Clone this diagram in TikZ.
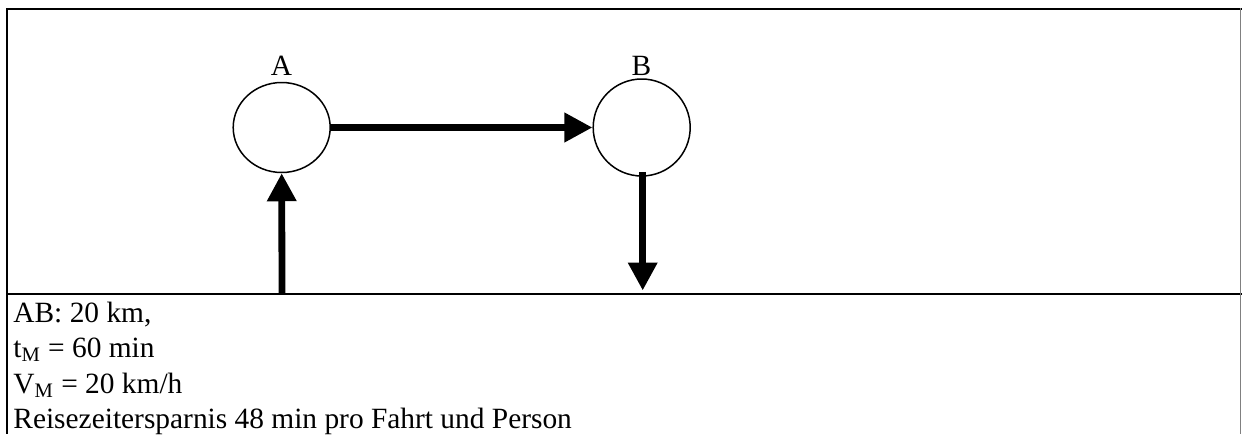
\documentclass[tikz,border=0pt]{standalone}
\usepackage{fontspec}
\setmainfont{Liberation Serif}
\usetikzlibrary{shapes.geometric,arrows.meta}
\tikzset{
  station/.style={ellipse,draw=black,line width=0.75pt,inner sep=0pt,fill=white},
  flow/.style={line width=3.4pt,-{Triangle[length=14pt,width=14pt]}},
  frameline/.style={line width=1pt,black},
  txt/.style={anchor=base west,inner sep=0pt,font=\fontsize{14.7pt}{17pt}\selectfont},
  lbl/.style={anchor=base,inner sep=0pt,font=\fontsize{14.7pt}{17pt}\selectfont}
}
\begin{document}
\begin{tikzpicture}[x=0.5pt,y=-0.5pt]
\useasboundingbox (0,0) rectangle (1242,434);
% table frame
\draw[frameline] (6,8.5) -- (1242,8.5);
\draw[frameline] (7,8) -- (7,434);
\draw[frameline] (7,293.5) -- (1242,293.5);
\draw[line width=0.6pt,gray] (1240.7,8) -- (1240.7,434);
% stations
\node[station,minimum width=48.5pt,minimum height=45pt] (A) at (281.7,127.5) {};
\node[station,minimum width=48.5pt,minimum height=48.5pt] (B) at (641.7,127.5) {};
\node[lbl] (la) at (281.5,75) {A};
\node[lbl] (lb) at (641.5,75) {B};
% connectors
\coordinate (inA) at (282,293);
\coordinate (outB) at (642.7,290.5);
\draw[flow] (A.east) -- (B.west);
\draw[flow] (inA) -- (A.south);
\draw[flow] ([yshift=2.5pt]B.south -| outB) -- (outB);
% text
\node[txt] (t1) at (13,322) {AB: 20 km,};
\node[txt] (t2) at (13,357.5) {t\textsubscript{M} = 60 min};
\node[txt] (t3) at (13,393) {V\textsubscript{M} = 20 km/h};
\node[txt] (t4) at (13,428.5) {Reisezeitersparnis 48 min pro Fahrt und Person};
\end{tikzpicture}
\end{document}
